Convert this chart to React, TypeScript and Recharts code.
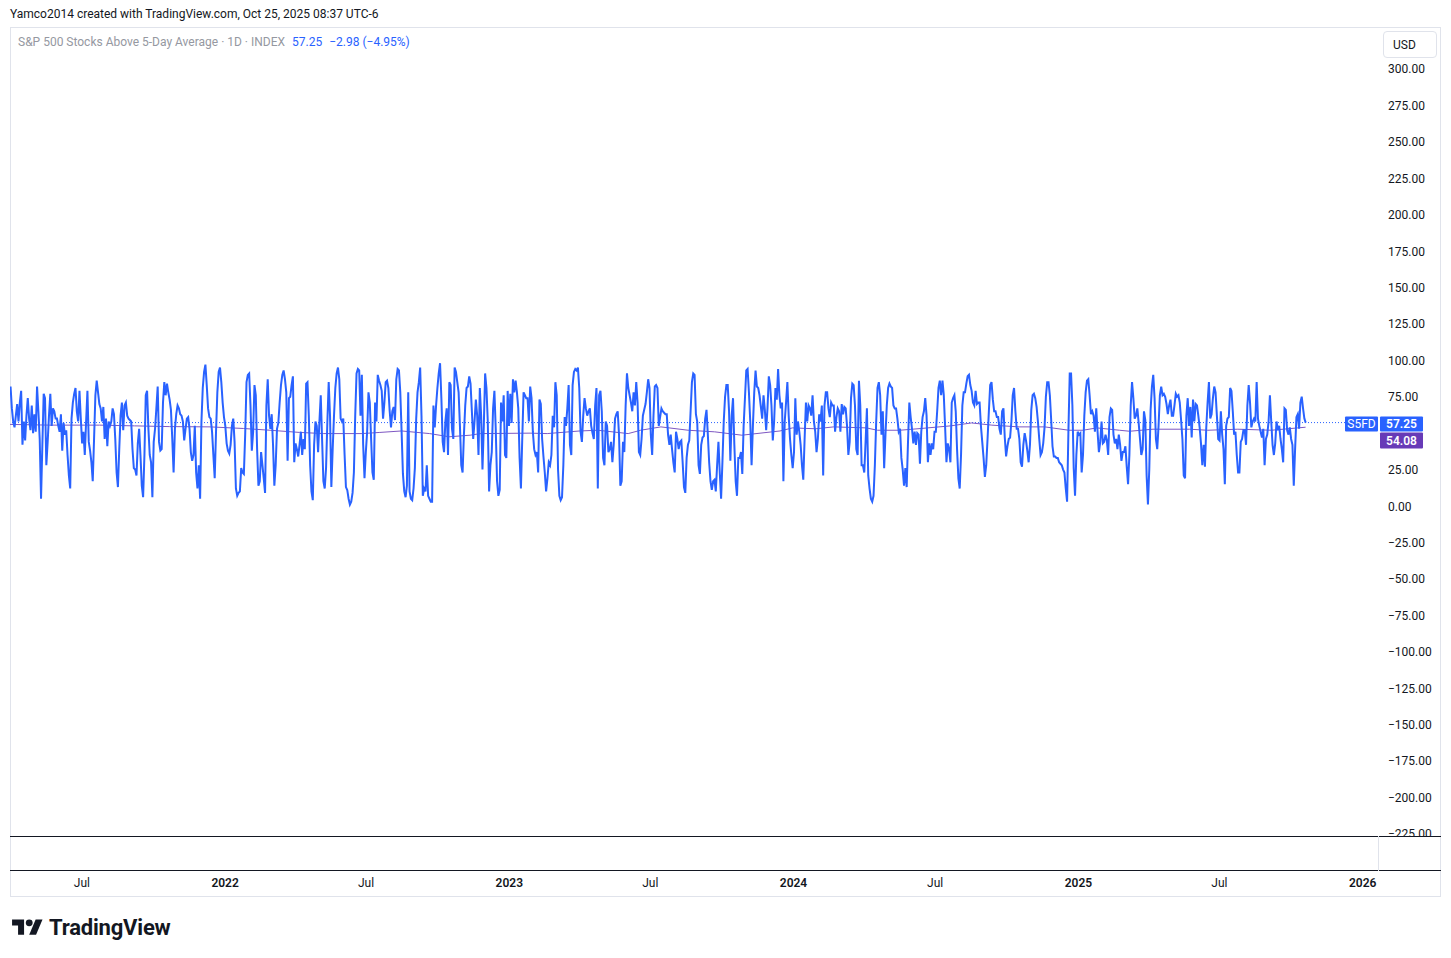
import React from 'react';
import { LineChart, Line, XAxis, YAxis, ReferenceLine } from 'recharts';

// ---- data ----
// S5FD daily readings, resampled every SAMPLE_STEP_DAYS calendar days, starting FIRST_SAMPLE_DAY after BASE_DATE
const BASE_DATE = Date.UTC(2021, 3, 1); // 2021-04-01
const FIRST_SAMPLE_DAY = 0.7;
const SAMPLE_STEP_DAYS = 1.7026;

const s5fdPart1 = [82,67,58,54,62,70,58,71,79,42,58,45,62,74,60,52,69,50,63,51,82,65,46,5,42,77,74,28,44,62,77,55,67,65,60,60,55,51,63,38,57,49,52,35,21,12,60,71,77,81,65,58,79,60,43,51,35,58,79,44,38,30,17,46,76,86,78,70,67,58,68,46,60,41,58,55,58,67,63,46,23,13,39,62,71,52,69];
const s5fdPart2 = [71,62,60,59,58,39,26,25,21,43,53,35,14,6,35,76,79,53,35,30,6,44,53,67,82,44,38,39,71,85,76,84,78,73,66,46,23,53,63,69,67,63,62,58,45,53,60,61,53,37,31,35,55,23,12,28,5,58,81,92,97,83,67,61,60,51,35,19,51,78,92,95,85,71,61,55,43,38,36,42,55,60,44,12,7,9,10,26,23];
const s5fdPart3 = [22,49,85,90,91,69,38,51,83,76,39,14,17,37,28,19,9,69,87,62,53,63,42,14,28,53,57,71,83,90,93,87,78,31,74,75,83,89,30,43,39,34,42,51,35,46,39,84,85,62,28,10,4,42,58,55,37,58,76,46,17,12,26,58,85,62,13,39,62,81,91,95,87,60,58,60,35,13,11,5,1,3,9,23,62,91,94,93,62];
const s5fdPart4 = [90,42,19,37,51,78,71,46,23,18,71,58,90,86,83,79,60,71,85,86,81,65,54,65,68,59,87,94,93,78,51,22,10,6,14,78,10,5,4,12,26,60,78,85,95,62,7,12,10,28,7,5,3,3,69,54,69,81,91,98,74,44,37,58,67,35,85,83,53,46,95,92,85,78,55,28,23,49,69,81,82,89,84,65,46,58,73,62,35];
const s5fdPart5 = [81,62,25,55,91,81,58,10,28,37,67,79,53,17,7,11,71,58,76,35,33,79,55,77,57,87,78,86,78,67,33,12,46,78,76,74,74,58,82,74,51,39,35,37,23,73,70,46,34,23,10,19,30,28,35,62,54,85,76,25,7,4,6,28,61,55,67,83,42,35,83,92,94,93,95,81,51,44,62,74,67,62,65,67,55,50,46,69,81];
const s5fdPart6 = [12,76,79,65,33,28,58,55,37,39,44,30,42,60,63,65,49,14,17,44,37,69,91,81,76,71,65,78,69,85,71,37,35,46,62,66,70,78,87,81,49,35,62,82,83,81,55,61,67,65,64,63,63,49,42,49,39,30,23,51,46,39,44,45,30,13,9,33,42,45,65,85,91,90,63,58,28,22,42,47,48,60,66,49,30,17,11,17,18];
const s5fdPart7 = [10,28,44,23,5,30,58,75,83,83,65,31,62,74,42,17,7,33,33,37,22,55,74,93,94,78,58,28,55,78,93,82,81,76,68,60,76,66,52,67,89,83,69,45,58,81,73,94,76,67,71,17,58,71,85,62,46,35,26,37,74,49,58,51,42,28,18,46,71,58,69,67,62,76,58,51,37,46,63,58,69,21,69,78,78,67,61,71,69];
const s5fdPart8 = [69,51,61,67,65,51,70,63,68,67,55,35,44,74,84,83,69,39,35,86,69,28,28,23,44,67,21,12,5,3,7,28,58,81,85,76,49,65,26,49,69,81,84,82,81,69,67,67,60,51,53,33,25,14,26,13,44,71,61,53,43,51,42,50,49,29,51,61,65,74,62,30,43,35,43,39,51,51,65,81,86,76,86,76,54,30,43,39,30];
const s5fdPart9 = [71,74,76,65,39,19,12,35,69,78,78,84,89,90,83,79,71,69,79,70,71,71,55,44,33,20,28,46,65,83,85,73,65,65,61,61,53,49,65,67,47,34,41,46,47,58,76,81,65,53,53,46,30,27,42,50,45,38,30,42,66,76,77,74,68,58,46,35,37,43,54,75,85,85,76,59,41,34,34,33,33,30,29,28,25,23,12,3,51];
const s5fdPart10 = [91,91,69,26,7,35,51,49,50,23,35,62,78,86,87,76,63,65,62,51,67,51,37,44,58,43,44,49,45,35,61,67,66,49,43,46,39,49,42,31,37,37,41,27,15,35,69,85,74,60,62,67,57,46,35,39,65,59,21,1,25,66,82,90,74,46,39,55,76,82,76,77,75,70,63,69,73,62,62,69,77,75,76,71,59,46,21,19,62];
const s5fdPart11 = [74,55,68,47,73,58,70,69,62,54,43,28,42,27,54,71,85,60,63,74,82,78,62,46,45,65,49,39,15,55,60,61,81,79,65,49,51,35,23,23,44,46,52,52,42,69,83,71,54,58,60,58,85,60,55,51,47,53,28,46,49,58,76,58,42,35,43,58,52,55,46,39,30,67,66,52,49,54,46,42,14,39,61,63,53,71,75,67,60,57.25];

const s5fdValues = [
  ...s5fdPart1, ...s5fdPart2, ...s5fdPart3, ...s5fdPart4, ...s5fdPart5, ...s5fdPart6,
  ...s5fdPart7, ...s5fdPart8, ...s5fdPart9, ...s5fdPart10, ...s5fdPart11,
];

// moving average (purple) : day offsets after BASE_DATE and values
const maDays = [0,51,115,160,205,257,300,334,372,403,452,475,503,539,564,591,604,668,690,732,755,794,810,836,871,905,940,989,1005,1035,1058,1100,1114,1143,1170,1208,1235,1261,1296,1329,1360,1378,1396,1425,1438,1468,1515,1538,1577,1620,1664];
const maValues = [56.0,55.5,55.5,55.0,54.5,54.3,53.2,52.0,50.5,49.7,49.7,50.5,51.5,49.7,47.5,48.6,49.7,50.0,49.7,51.5,52.0,49.7,52.0,54.3,52.0,50.9,48.6,51.5,53.6,53.0,54.3,53.6,52.0,52.0,53.2,55.0,57.0,55.5,54.3,54.3,52.0,52.0,53.6,52.0,51.3,52.7,52.7,52.0,52.7,52.0,54.08];

const xTickDates = ['2021-07-01','2022-01-01','2022-07-01','2023-01-01','2023-07-01','2024-01-01','2024-07-01','2025-01-01','2025-07-01','2026-01-01'];
const xTickLabels = ['Jul','2022','Jul','2023','Jul','2024','Jul','2025','Jul','2026'];
// the 50.00 level is hidden behind the price tags in the reference
const yTicks = [-225,-200,-175,-150,-125,-100,-75,-50,-25,0,25,75,100,125,150,175,200,225,250,275,300];

const SYMBOL = 'S5FD';
const TITLE = 'S&P 500 Stocks Above 5-Day Average · 1D · INDEX';
const lastValue = 57.25;
const lastChange = -2.98;
const lastChangePct = -4.95;
const maLast = 54.08;

// ---- derived tables ----
const dayOf = (iso: string) => (Date.parse(iso + 'T00:00:00Z') - BASE_DATE) / 86400000;
const xTickDays = xTickDates.map(dayOf);
const mainData = s5fdValues.map((v, i) => ({ day: FIRST_SAMPLE_DAY + i * SAMPLE_STEP_DAYS, v }));
const maData = maDays.map((d, i) => ({ day: d, ma: maValues[i] }));

// ---- style ----
const BLUE = '#2962ff';
const PURPLE = '#673ab7';
const FONT = "'Trebuchet MS', Roboto, 'Noto Sans', sans-serif";
const TEXT = '#131722';

const CHART_LEFT = 10;
const CHART_TOP = 28;
const CHART_W = 1431;
const CHART_H = 869;
const Y_AXIS_W = 63;
const X_AXIS_H = 61;
const PLOT_W = CHART_W - Y_AXIS_W;
const PLOT_H = CHART_H - X_AXIS_H;

const fmt = (n: number) => (n < 0 ? '\u2212' : '') + Math.abs(n).toFixed(2);

const XTick = (props: any) => {
  const { x, payload } = props;
  const idx = xTickDays.indexOf(payload.value);
  const label = idx >= 0 ? xTickLabels[idx] : '';
  const isYear = /^\d{4}$/.test(label);
  return (
    <text x={x + 1} y={PLOT_H + 47} textAnchor="middle" dominantBaseline="central"
      fontFamily={FONT} fontSize={12} fill={TEXT} fontWeight={isYear ? 600 : 400}>
      {label}
    </text>
  );
};

const YTick = (props: any) => {
  const { y, payload } = props;
  return (
    <text x={PLOT_W + 10} y={y + 0.5} textAnchor="start" dominantBaseline="central"
      fontFamily={FONT} fontSize={12} fill={TEXT}>
      {fmt(payload.value)}
    </text>
  );
};

const LastTags = (props: any) => {
  const vb = props.viewBox || {};
  const right = (vb.x || 0) + (vb.width || 0);
  const y = vb.y || 0;
  return (
    <g fontFamily={FONT} fontSize={12}>
      <rect x={right - 33} y={y - 6} width={33} height={15} fill={BLUE} rx={1} />
      <text x={right - 16.5} y={y + 1.5} textAnchor="middle" dominantBaseline="central" fill="#fff">{SYMBOL}</text>
      <rect x={right + 2} y={y - 6} width={43} height={15} fill={BLUE} rx={1} />
      <text x={right + 23.5} y={y + 1.5} textAnchor="middle" dominantBaseline="central" fill="#fff" fontWeight={600}>{lastValue.toFixed(2)}</text>
      <rect x={right + 2} y={y + 10} width={43} height={16} fill={PURPLE} rx={1} />
      <text x={right + 23.5} y={y + 18} textAnchor="middle" dominantBaseline="central" fill="#fff" fontWeight={600}>{maLast.toFixed(2)}</text>
    </g>
  );
};

const Logo = () => (
  <div style={{ position: 'absolute', left: 12, top: 915, display: 'flex', alignItems: 'center' }}>
    <svg width={31} height={24} viewBox="0 0 36 28">
      <path d="M14 22H7V11H0V4h14v18z" fill={TEXT} />
      <circle cx={20} cy={8} r={4} fill={TEXT} />
      <path d="M28 22h-8l7.5-18h8L28 22z" fill={TEXT} />
    </svg>
    <span style={{ marginLeft: 6, fontFamily: "Roboto, 'Open Sans', sans-serif", fontWeight: 700, fontSize: 22, color: TEXT, letterSpacing: -0.2 }}>TradingView</span>
  </div>
);

export default function App() {
  const abs = (l: number, t: number, w: number, h: number, extra: any = {}) => ({
    position: 'absolute' as const, left: l, top: t, width: w, height: h, ...extra,
  });
  return (
    <div style={{ position: 'absolute', left: 0, top: 0, width: 1451, height: 958, background: '#fff', overflow: 'hidden' }}>
      <div style={{ position: 'absolute', left: 10, top: 7, fontFamily: FONT, fontSize: 12, color: TEXT, whiteSpace: 'nowrap' }}>
        Yamco2014 created with TradingView.com, Oct 25, 2025 08:37 UTC-6
      </div>

      {/* frame */}
      <div style={abs(10, 27, 1431, 870, { border: '1px solid #e0e3eb', boxSizing: 'border-box' })} />

      <div style={{ position: 'absolute', left: CHART_LEFT, top: CHART_TOP }}>
        <LineChart width={CHART_W} height={CHART_H} margin={{ top: 0, right: 0, bottom: 0, left: 0 }}>
          <XAxis type="number" dataKey="day" domain={[0, 1757]} ticks={xTickDays} tick={<XTick />}
            axisLine={false} tickLine={false} height={X_AXIS_H} allowDataOverflow interval={0} />
          <YAxis type="number" orientation="right" domain={[-226.49, 328.07]} ticks={yTicks} tick={<YTick />}
            axisLine={false} tickLine={false} width={Y_AXIS_W} allowDataOverflow interval={0} />
          <ReferenceLine y={lastValue} stroke={BLUE} strokeDasharray="1 2" strokeWidth={1} label={<LastTags />} />
          <Line data={maData} dataKey="ma" type="linear" stroke="#7e57c2" strokeWidth={1} dot={false} isAnimationActive={false} />
          <Line data={mainData} dataKey="v" type="linear" stroke={BLUE} strokeWidth={2} dot={false} isAnimationActive={false} />
        </LineChart>
      </div>

      {/* legend */}
      <div style={{ position: 'absolute', left: 18, top: 35, fontFamily: FONT, fontSize: 12, whiteSpace: 'nowrap', display: 'flex', gap: 7 }}>
        <span style={{ color: '#9598a1' }}>{TITLE}</span>
        <span style={{ color: BLUE }}>{lastValue.toFixed(2)}</span>
        <span style={{ color: BLUE }}>{fmt(lastChange)} ({fmt(lastChangePct)}%)</span>
      </div>

      {/* currency button */}
      <div style={abs(1383, 31, 54, 27, { border: '1px solid #e0e3eb', borderRadius: 4, boxSizing: 'border-box', fontFamily: FONT, fontSize: 12, color: TEXT, display: 'flex', alignItems: 'center', paddingLeft: 9, background: '#fff' })}>USD</div>

      {/* lower panes */}
      <div style={abs(1379, 837, 61, 33, { background: '#fff' })} />
      <div style={abs(10, 836, 1431, 1, { background: TEXT })} />
      <div style={abs(10, 870, 1431, 1, { background: TEXT })} />
      <div style={abs(1378, 836, 1, 35, { background: '#e0e3eb' })} />

      <Logo />
    </div>
  );
}
